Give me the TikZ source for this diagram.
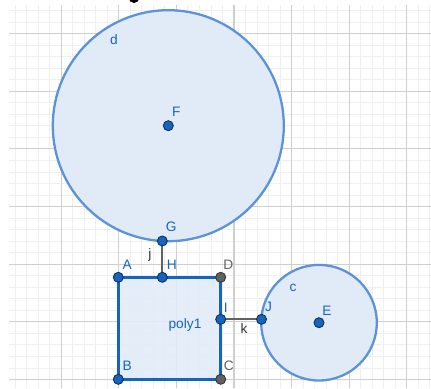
\documentclass[tikz,border=0pt]{standalone}
\usepackage{fontspec}
\setmainfont{Liberation Sans}
\usepackage{tikz}
\usetikzlibrary{calc}
\definecolor{ggblue}{HTML}{1565C0}
\definecolor{ggline}{HTML}{5B92D8}
\definecolor{ggfill}{HTML}{E1EBF7}
\definecolor{ggdark}{HTML}{0D2E5C}
\definecolor{gggray}{HTML}{616161}
\definecolor{gridmajor}{HTML}{CFCFCF}
\definecolor{gridminor}{HTML}{EFEFEF}
\begin{document}
\begin{tikzpicture}[
  x=0.02cm,y=-0.02cm,
  minor/.style={draw=gridminor,line width=0.5pt},
  major/.style={draw=gridmajor,line width=0.6pt},
  disc/.style={draw=ggline,fill=ggfill,line width=1.3pt},
  poly/.style={draw=ggblue,fill=ggfill,fill opacity=0.9,line width=1.4pt},
  seg/.style={draw=gggray,line width=1.1pt},
  pt/.style={circle,inner sep=0pt,minimum size=5.7pt,fill=#1,draw=ggdark,line width=0.5pt},
  pt/.default={ggblue},
  lbl/.style={text=#1,font=\fontsize{7.8}{9}\selectfont,inner sep=0pt},
  lbl/.default={ggblue},
]
  \useasboundingbox (0,0) rectangle (431,388);
  \clip (0,0) rectangle (431,388);
  % grid
  \foreach \i in {0,...,36}
    \draw[minor] ({15.12+11.52*\i},5) -- ({15.12+11.52*\i},388);
  \foreach \i in {0,...,32}
    \draw[minor] (9,{10.54+11.53*\i}) -- (431,{10.54+11.53*\i});
  \foreach \i in {0,...,6}
    \draw[major] ({61.2+57.6*\i},5) -- ({61.2+57.6*\i},388);
  \foreach \i in {0,...,6}
    \draw[major] (9,{33.6+57.65*\i}) -- (431,{33.6+57.65*\i});
  % points
  \coordinate (F) at (168.3,125.7);
  \coordinate (E) at (319,322.7);
  \coordinate (A) at (118.3,277.3);
  \coordinate (B) at (118.3,379.3);
  \coordinate (C) at (220.7,379.3);
  \coordinate (D) at (220.7,277.3);
  \coordinate (H) at (162.3,277.3);
  \coordinate (G) at (162.3,241);
  \coordinate (I) at (220.7,319.3);
  \coordinate (J) at (261.5,319.3);
  % circles and polygon
  \draw[disc] (F) circle[radius=115.5];
  \draw[disc] (E) circle[radius=57.8];
  \draw[poly] (A) -- (B) -- (C) -- (D) -- cycle;
  \draw[seg] (G) -- (H);
  \draw[seg] (I) -- (J);
  % point markers
  \node[pt=black,draw=black] (top) at (134,-2.5) {};
  \node[pt] (pF) at (F) {};
  \node[pt] (pE) at (E) {};
  \node[pt] (pA) at (A) {};
  \node[pt] (pB) at (B) {};
  \node[pt=gggray,draw=black!80] (pC) at (C) {};
  \node[pt=gggray,draw=black!80] (pD) at (D) {};
  \node[pt] (pH) at (H) {};
  \node[pt] (pG) at (G) {};
  \node[pt] (pI) at (I) {};
  \node[pt] (pJ) at (J) {};
  % labels
  \node[lbl] (ld) at (114,40) {d};
  \node[lbl] (lF) at ($(F)+(8,-14)$) {F};
  \node[lbl] (lG) at ($(G)+(9,-14)$) {G};
  \node[lbl] (lA) at ($(A)+(9,-13)$) {A};
  \node[lbl] (lH) at ($(H)+(9.5,-13)$) {H};
  \node[lbl=gggray] (lD) at ($(D)+(7.6,-13)$) {D};
  \node[lbl] (lI) at ($(I)+(5,-12)$) {I};
  \node[lbl] (lJ) at ($(J)+(7,-12)$) {J};
  \node[lbl] (lB) at ($(B)+(9,-13.5)$) {B};
  \node[lbl=gggray] (lC) at ($(C)+(8,-13.5)$) {C};
  \node[lbl] (lE) at ($(E)+(8,-12)$) {E};
  \node[lbl] (lc) at (293,288) {c};
  \node[lbl] (lpoly) at (185,325) {poly1};
  \node[lbl=black!80] (lj) at (150,255) {j};
  \node[lbl=black!80] (lk) at (244,329) {k};
\end{tikzpicture}
\end{document}
